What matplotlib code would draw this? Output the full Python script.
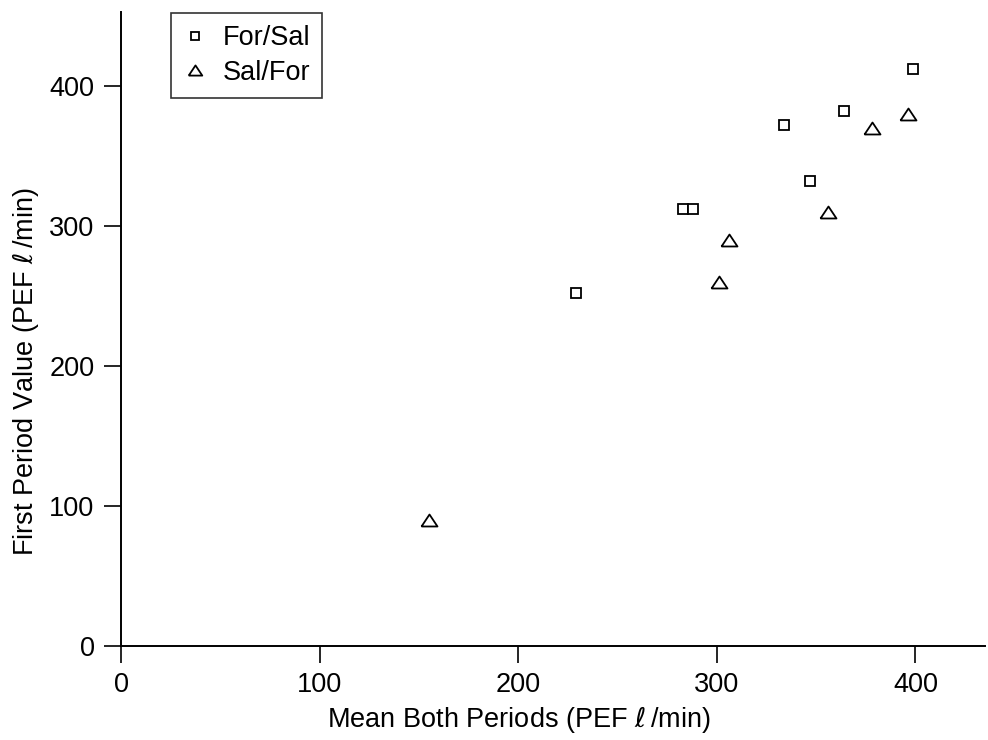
import matplotlib
matplotlib.use("Agg")
import matplotlib.pyplot as plt
import numpy as np

plt.rcParams['font.family'] = ['Liberation Sans', 'DejaVu Sans']

# Data
for_sal_x = [229, 283, 288, 334, 347, 364, 399]
for_sal_y = [252, 312, 312, 372, 332, 382, 412]
sal_for_x = [155, 301, 306, 356, 378, 396]
sal_for_y = [90, 260, 290, 310, 370, 380]
x_ticks = [0, 100, 200, 300, 400]
y_ticks = [0, 100, 200, 300, 400]

FS = 19.5

fig = plt.figure(figsize=(9.88, 7.4), dpi=100)
ax = fig.add_axes([121/988, 1-646/740, (985-121)/988, (646-12)/740])

tri = [(-1, -0.75), (1, -0.75), (0, 0.75), (-1, -0.75)]

ax.plot(for_sal_x, for_sal_y, linestyle='none', marker='s', markersize=7.3,
        markerfacecolor='white', markeredgecolor='black', markeredgewidth=1.3,
        label='For/Sal', clip_on=False)
ax.plot(sal_for_x, sal_for_y, linestyle='none', marker=tri, markersize=11.5,
        markerfacecolor='white', markeredgecolor='black', markeredgewidth=1.3,
        label='Sal/For', clip_on=False)

ax.set_xlim(0, 435)
ax.set_ylim(0, 453)
ax.set_xticks(x_ticks)
ax.set_yticks(y_ticks)
ax.spines['top'].set_visible(False)
ax.spines['right'].set_visible(False)
for s in ['left', 'bottom']:
    ax.spines[s].set_linewidth(1.4)
ax.tick_params(direction='out', length=12, width=1.2, labelsize=FS, pad=7, colors='black')

ax.set_xlabel(r'Mean Both Periods (PEF $\ell\,$/min)', fontsize=FS)
ax.set_ylabel(r'First Period Value (PEF $\ell\,$/min)', fontsize=FS)
ax.xaxis.set_label_coords(0.461, -0.092)
ax.yaxis.set_label_coords(-0.093, 0.432)

leg = ax.legend(loc='upper left', bbox_to_anchor=(0.058, 0.998), borderaxespad=0,
                fancybox=False, frameon=True, fontsize=FS, handlelength=0.9,
                handletextpad=0.55, borderpad=0.45, labelspacing=0.3, markerscale=0.85)
leg.get_frame().set_edgecolor('black')
leg.get_frame().set_linewidth(1.2)

fig.savefig('out.png', dpi=100)
